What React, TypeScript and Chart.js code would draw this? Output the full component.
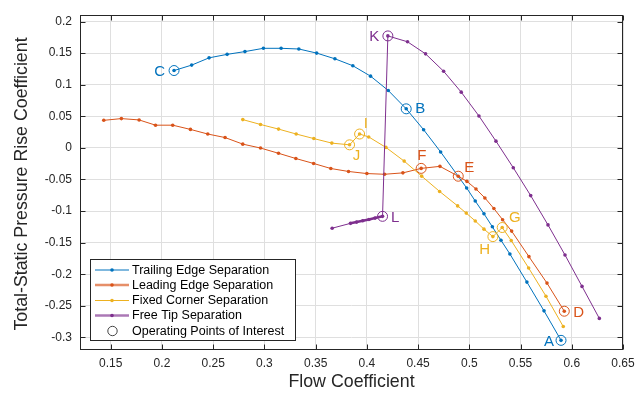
import React, { useEffect, useRef } from 'react';
import { Chart, registerables } from 'chart.js';

Chart.register(...registerables);

// ---------------- data ----------------
const trailingX = [0.2118, 0.229, 0.246, 0.2636, 0.281, 0.299, 0.3163, 0.3336, 0.351, 0.3688, 0.3863, 0.4036, 0.4209, 0.4384, 0.4554, 0.472, 0.4974, 0.5058, 0.5143, 0.5225, 0.5309, 0.5396, 0.5562, 0.5729, 0.5895];
const trailingY = [0.1224, 0.131, 0.1425, 0.148, 0.1524, 0.1576, 0.1576, 0.1565, 0.15, 0.141, 0.13, 0.1135, 0.0908, 0.0618, 0.0287, -0.0065, -0.0635, -0.0842, -0.1043, -0.125, -0.1463, -0.168, -0.2125, -0.258, -0.3047];

const leadingX = [0.1432, 0.1604, 0.1777, 0.1937, 0.2105, 0.2278, 0.2447, 0.2616, 0.2789, 0.2962, 0.3138, 0.3307, 0.348, 0.3648, 0.3821, 0.4, 0.4173, 0.4352, 0.453, 0.4713, 0.4892, 0.4977, 0.5065, 0.5152, 0.524, 0.5325, 0.5413, 0.5582, 0.5758, 0.5927];
const leadingY = [0.0436, 0.0463, 0.0442, 0.0359, 0.0359, 0.0292, 0.0219, 0.0163, 0.0059, -0.0003, -0.0086, -0.0169, -0.0247, -0.0327, -0.0374, -0.0407, -0.0418, -0.0396, -0.0325, -0.0293, -0.0449, -0.0531, -0.0651, -0.0793, -0.0961, -0.1137, -0.1318, -0.1722, -0.2141, -0.2586];

const cornerX = [0.2789, 0.2962, 0.3138, 0.331, 0.3482, 0.3658, 0.3831, 0.3929, 0.4018, 0.4186, 0.4364, 0.4535, 0.471, 0.4886, 0.497, 0.5058, 0.5143, 0.523, 0.5321, 0.5409, 0.5579, 0.5748, 0.5917];
const cornerY = [0.0447, 0.037, 0.0297, 0.0219, 0.0147, 0.0075, 0.0048, 0.0219, 0.0173, 0.0007, -0.021, -0.0448, -0.069, -0.0919, -0.1033, -0.1157, -0.1287, -0.1405, -0.1261, -0.1467, -0.1902, -0.2348, -0.2829];

const tipX = [0.3661, 0.384, 0.39, 0.396, 0.402, 0.408, 0.4153, 0.4205, 0.4397, 0.4573, 0.4749, 0.4921, 0.5094, 0.526, 0.5429, 0.5599, 0.5768, 0.5934, 0.61, 0.6269];
const tipY = [-0.1272, -0.1195, -0.1175, -0.1155, -0.1135, -0.1112, -0.1084, 0.1772, 0.1679, 0.1488, 0.1213, 0.0882, 0.0505, 0.0106, -0.0314, -0.0756, -0.122, -0.1696, -0.2193, -0.27];

const pointNames = ['A', 'B', 'C', 'D', 'E', 'F', 'G', 'H', 'I', 'J', 'K', 'L'];
const pointX = [0.5895, 0.4384, 0.2118, 0.5927, 0.4892, 0.453, 0.5321, 0.523, 0.3929, 0.3831, 0.4205, 0.4153];
const pointY = [-0.3047, 0.0618, 0.1224, -0.2586, -0.0449, -0.0325, -0.1261, -0.1405, 0.0219, 0.0048, 0.1772, -0.1084];
const pointSeries = [0, 0, 0, 1, 1, 1, 2, 2, 2, 2, 3, 3];

const seriesNames = ['Trailing Edge Separation', 'Leading Edge Separation', 'Fixed Corner Separation', 'Free Tip Separation'];
const pointsLegendName = 'Operating Points of Interest';

const xTickValues = [0.15, 0.2, 0.25, 0.3, 0.35, 0.4, 0.45, 0.5, 0.55, 0.6, 0.65];
const xTickLabels = ['0.15', '0.2', '0.25', '0.3', '0.35', '0.4', '0.45', '0.5', '0.55', '0.6', '0.65'];
const yTickValues = [0.2, 0.15, 0.1, 0.05, 0, -0.05, -0.1, -0.15, -0.2, -0.25, -0.3];
const yTickLabels = ['0.2', '0.15', '0.1', '0.05', '0', '-0.05', '-0.1', '-0.15', '-0.2', '-0.25', '-0.3'];

const xTitle = 'Flow Coefficient';
const yTitle = 'Total-Static Pressure Rise Coefficient';

// ---------------- styles ----------------
const COLORS = ['#0072BD', '#D95319', '#EDB120', '#7E2F8E'];
const LABEL_OFFSETS: [number, number][] = [
  [-12, 0.7], [14, -0.7], [-14.3, 0.7], [14.4, 0.7], [11, -9.7], [0.7, -13.4],
  [12.7, -10.3], [-8.3, 12.7], [6.3, -11.4], [7, 10.3], [-13.7, 0.3], [12.6, 1],
];
const FONT = '"Liberation Sans", Arial, Helvetica, sans-serif';
const AXIS_COLOR = '#262626';
const GRID_COLOR = '#dfdfdf';

const toPts = (xs: number[], ys: number[]) => xs.map((v, i) => ({ x: v, y: ys[i] }));

const labelFor = (vals: number[], labels: string[]) => (v: any) => {
  const i = vals.findIndex((t) => Math.abs(t - Number(v)) < 1e-9);
  return i >= 0 ? labels[i] : '';
};

const overlayPlugin = {
  id: 'overlay',
  afterDraw(chart: any) {
    const { ctx, chartArea: a, scales } = chart;
    const xs = scales.x;
    const ys = scales.y;
    ctx.save();
    // frame
    ctx.strokeStyle = AXIS_COLOR;
    ctx.lineWidth = 1;
    const L = Math.round(a.left) + 0.5;
    const T = Math.round(a.top) + 0.5;
    const R = Math.round(a.right) - 0.5;
    const B = Math.round(a.bottom) - 0.5;
    ctx.strokeRect(L, T, R - L, B - T);
    // inward ticks on all sides
    ctx.beginPath();
    xTickValues.forEach((v) => {
      const px = Math.round(xs.getPixelForValue(v)) + 0.5;
      ctx.moveTo(px, B);
      ctx.lineTo(px, B - 5);
      ctx.moveTo(px, T);
      ctx.lineTo(px, T + 5);
    });
    yTickValues.forEach((v) => {
      const py = Math.round(ys.getPixelForValue(v)) + 0.5;
      ctx.moveTo(L, py);
      ctx.lineTo(L + 5, py);
      ctx.moveTo(R, py);
      ctx.lineTo(R - 5, py);
    });
    ctx.stroke();

    // axis titles
    ctx.fillStyle = AXIS_COLOR;
    ctx.font = `17.8px ${FONT}`;
    ctx.textAlign = 'center';
    ctx.textBaseline = 'middle';
    ctx.fillText(xTitle, (a.left + a.right) / 2, 382);
    ctx.save();
    ctx.translate(22, 184);
    ctx.rotate(-Math.PI / 2);
    ctx.fillText(yTitle, 0, 0);
    ctx.restore();

    // point labels
    ctx.font = `15px ${FONT}`;
    ctx.textAlign = 'center';
    ctx.textBaseline = 'middle';
    pointNames.forEach((name, i) => {
      const px = xs.getPixelForValue(pointX[i]);
      const py = ys.getPixelForValue(pointY[i]);
      ctx.fillStyle = COLORS[pointSeries[i]];
      ctx.fillText(name, px + LABEL_OFFSETS[i][0], py + LABEL_OFFSETS[i][1] + 1);
    });

    // legend
    const lx = 90.5, ly = 259.5, lw = 205, lh = 81;
    ctx.fillStyle = '#ffffff';
    ctx.fillRect(lx, ly, lw, lh);
    ctx.strokeStyle = AXIS_COLOR;
    ctx.lineWidth = 1;
    ctx.strokeRect(lx, ly, lw, lh);
    const rows = [270, 285, 300.5, 315.5, 331];
    ctx.font = `12.5px ${FONT}`;
    ctx.textAlign = 'left';
    ctx.textBaseline = 'middle';
    seriesNames.forEach((name, i) => {
      const yy = rows[i];
      ctx.save();
      const heavy = i === 1 || i === 3;
      ctx.globalAlpha = heavy ? 0.65 : 1;
      ctx.strokeStyle = COLORS[i];
      ctx.lineWidth = heavy ? 2.4 : 1.2;
      ctx.beginPath();
      ctx.moveTo(95, yy);
      ctx.lineTo(129, yy);
      ctx.stroke();
      ctx.globalAlpha = 1;
      ctx.fillStyle = COLORS[i];
      ctx.beginPath();
      ctx.arc(112, yy, 1.8, 0, Math.PI * 2);
      ctx.fill();
      ctx.restore();
      ctx.fillStyle = '#000000';
      ctx.fillText(name, 132, yy + 0.5);
    });
    ctx.strokeStyle = '#444444';
    ctx.lineWidth = 1;
    ctx.beginPath();
    ctx.arc(112.5, rows[4], 4.7, 0, Math.PI * 2);
    ctx.stroke();
    ctx.fillStyle = '#000000';
    ctx.fillText(pointsLegendName, 132, rows[4] + 0.5);

    ctx.restore();
  },
};

export default function App() {
  const canvasRef = useRef<HTMLCanvasElement | null>(null);

  useEffect(() => {
    const canvas = canvasRef.current;
    if (!canvas) return;
    const lineDs = (label: string, xs: number[], ys: number[], color: string, extra: any = {}) => ({
      label,
      data: toPts(xs, ys),
      showLine: true,
      borderColor: color,
      backgroundColor: color,
      borderWidth: 1,
      pointRadius: 1.8,
      pointBorderWidth: 0,
      pointBackgroundColor: color,
      pointHoverRadius: 1.8,
      tension: 0,
      ...extra,
    });

    const chart = new Chart(canvas, {
      type: 'scatter',
      data: {
        datasets: [
          {
            label: pointsLegendName,
            data: toPts(pointX, pointY),
            showLine: false,
            pointRadius: 5,
            pointHoverRadius: 5,
            pointBorderWidth: 1,
            pointBorderColor: pointSeries.map((s) => COLORS[s]),
            pointBackgroundColor: 'rgba(0,0,0,0)',
            backgroundColor: 'rgba(0,0,0,0)',
          } as any,
          lineDs(seriesNames[3], tipX, tipY, COLORS[3], {
            segment: {
              borderWidth: (c: any) => (c.p0DataIndex >= 1 && c.p1DataIndex <= 6 ? 2.6 : 1),
            },
          }),
          lineDs(seriesNames[2], cornerX, cornerY, COLORS[2]),
          lineDs(seriesNames[1], leadingX, leadingY, COLORS[1]),
          lineDs(seriesNames[0], trailingX, trailingY, COLORS[0]),
        ],
      },
      options: {
        responsive: false,
        animation: false,
        events: [],
        layout: { padding: { left: 0, right: 18, top: 10, bottom: 0 } },
        plugins: {
          legend: { display: false },
          tooltip: { enabled: false },
        },
        scales: {
          x: {
            type: 'linear',
            min: 0.12,
            max: 0.65,
            afterBuildTicks: (s: any) => {
              s.ticks = xTickValues.map((v) => ({ value: v }));
            },
            afterFit: (s: any) => {
              s.height = 43;
            },
            ticks: {
              callback: labelFor(xTickValues, xTickLabels),
              autoSkip: false,
              maxRotation: 0,
              padding: 6,
              color: AXIS_COLOR,
              font: { family: FONT, size: 12 },
            },
            grid: { color: GRID_COLOR, lineWidth: 1, drawTicks: false },
            border: { display: false },
            title: { display: false },
          },
          y: {
            type: 'linear',
            min: -0.32,
            max: 0.21,
            afterBuildTicks: (s: any) => {
              s.ticks = yTickValues.map((v) => ({ value: v }));
            },
            afterFit: (s: any) => {
              s.width = 80;
            },
            ticks: {
              callback: labelFor(yTickValues, yTickLabels),
              autoSkip: false,
              padding: 8,
              color: AXIS_COLOR,
              font: { family: FONT, size: 12 },
            },
            grid: { color: GRID_COLOR, lineWidth: 1, drawTicks: false },
            border: { display: false },
            title: { display: false },
          },
        },
      } as any,
      plugins: [overlayPlugin],
    });
    return () => chart.destroy();
  }, []);

  return (
    <div style={{ position: 'absolute', left: 0, top: 0, width: 641, height: 393, background: '#fff' }}>
      <canvas ref={canvasRef} width={641} height={393} style={{ display: 'block' }} />
    </div>
  );
}
